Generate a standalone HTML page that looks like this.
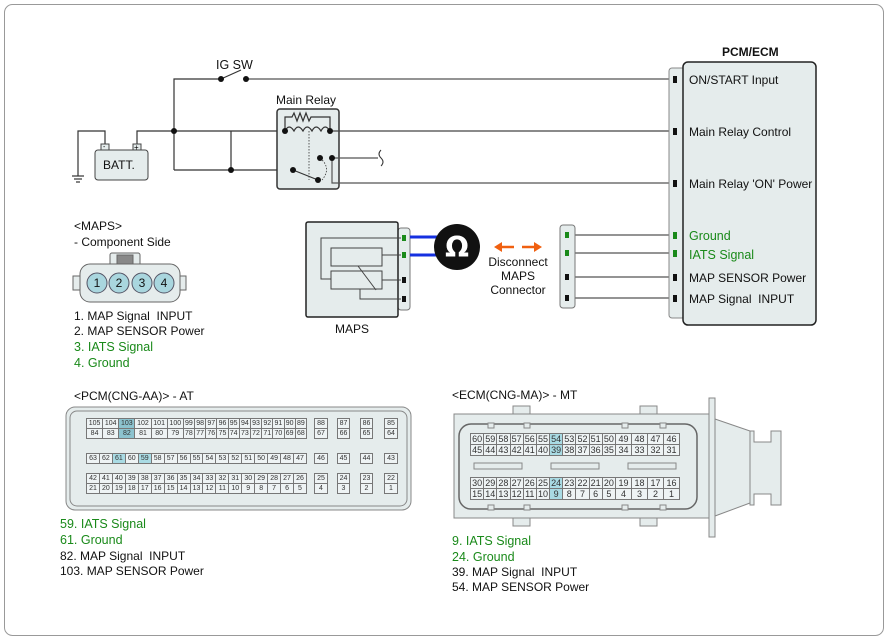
<!DOCTYPE html>
<html><head><meta charset="utf-8">
<style>
body{margin:0;width:888px;height:640px;background:#fff;position:relative;overflow:hidden;font-family:"Liberation Sans",sans-serif;}
svg{position:absolute;left:0;top:0}
.t{position:absolute;font-size:12px;color:#111;white-space:nowrap;line-height:14px}
.g{color:#1a8a1a;font-size:12.5px}
table{position:absolute;border-collapse:collapse;font-size:7px;font-family:"Liberation Sans",sans-serif;color:#333}
td{border:1px solid #777;padding:0;text-align:center;height:9px;line-height:9px;background:#eef3f4}
td.h1{background:#8cc3cf}
td.h2{background:#a9dbe4}
</style></head><body>
<svg width="888" height="640" viewBox="0 0 888 640">
<rect x="4.5" y="4.5" width="879" height="631" rx="8" fill="none" stroke="#999"/>
<g stroke="#333" stroke-width="1.2" fill="none">
<!-- IG SW line -->
<polyline points="174,170 174,79 221,79"/>
<line x1="221" y1="79" x2="241" y2="70"/>
<line x1="246" y1="79" x2="672" y2="79" stroke="#555"/>
<!-- battery + to junction -->
<polyline points="137,146 137,131 231,131"/>
<line x1="231" y1="131" x2="285" y2="131"/>
<line x1="231" y1="131" x2="231" y2="170"/>
<line x1="174" y1="170" x2="293" y2="170"/>
<!-- battery - to ground -->
<polyline points="105,146 105,131 78,131 78,176"/>
<line x1="72" y1="176" x2="84" y2="176"/>
<line x1="74" y1="179" x2="82" y2="179"/>
<line x1="76" y1="182" x2="80" y2="182"/>
<!-- relay -->
<rect x="277" y="109" width="62" height="80" rx="3" fill="#e5ecec" stroke="#333" stroke-width="1.5"/>
<polyline points="285,131 285,117 292,117 294,113 297,121 300,113 303,121 306,113 309,121 311,117 330,117 330,131"/>
<path d="M285,131 q4,-8 9,0 q4,-8 9,0 q4,-8 9,0 q4,-8 9,0 q4,-8 9,0"/>
<line x1="309" y1="131" x2="309" y2="180" stroke-dasharray="1.5,1.5" stroke-width="0.8"/>
<line x1="330" y1="131" x2="672" y2="131" stroke="#444"/>
<line x1="293" y1="170" x2="318" y2="180"/>
<path d="M320,158 q12,10 2,22" stroke-dasharray="1.5,1.5" stroke-width="0.8"/>
<line x1="332" y1="158" x2="378" y2="158" stroke="#555"/>
<path d="M381,150 q-4,4 0,8 q4,4 0,8" stroke-width="1"/>
<polyline points="332,158 332,183 672,183" stroke="#555"/>
<!-- MAPS right connector wires -->
<line x1="575" y1="235" x2="672" y2="235" stroke="#555"/>
<line x1="575" y1="253" x2="672" y2="253" stroke="#555"/>
<line x1="575" y1="277" x2="672" y2="277" stroke="#555"/>
<line x1="575" y1="298" x2="672" y2="298" stroke="#555"/>
</g>
<g fill="#111">
<circle cx="221" cy="79" r="3"/><circle cx="246" cy="79" r="3"/>
<circle cx="174" cy="131" r="3"/><circle cx="231" cy="170" r="3"/>
<circle cx="285" cy="131" r="3"/><circle cx="330" cy="131" r="3"/>
<circle cx="320" cy="158" r="3"/><circle cx="332" cy="158" r="3"/>
<circle cx="293" cy="170" r="3"/><circle cx="318" cy="180" r="3"/>
</g>
<!-- battery -->
<rect x="95" y="150" width="53" height="30" rx="3" fill="#e5ecec" stroke="#444"/>
<rect x="101" y="144" width="8" height="6" fill="#e5ecec" stroke="#444"/>
<rect x="133" y="144" width="8" height="6" fill="#e5ecec" stroke="#444"/>
<text x="103" y="149" font-size="7" font-family="Liberation Sans">-</text>
<text x="134" y="150" font-size="8" font-family="Liberation Sans">+</text>
<!-- PCM/ECM -->
<rect x="669" y="68" width="16" height="250" rx="3" fill="#e5ecec" stroke="#888"/>
<rect x="683" y="62" width="133" height="263" rx="5" fill="#e5ecec" stroke="#222" stroke-width="1.5"/>
<g fill="#111"><rect x="673" y="76" width="4" height="7"/><rect x="673" y="128" width="4" height="7"/><rect x="673" y="180" width="4" height="7"/><rect x="673" y="274" width="4" height="7"/><rect x="673" y="295" width="4" height="7"/></g>
<g fill="#1a8a1a"><rect x="673" y="232" width="4" height="7"/><rect x="673" y="250" width="4" height="7"/></g>
<!-- right MAPS connector -->
<rect x="560" y="225" width="15" height="83" rx="3" fill="#e5ecec" stroke="#777"/>
<g fill="#1a8a1a"><rect x="565" y="232" width="4" height="6"/><rect x="565" y="250" width="4" height="6"/></g>
<g fill="#111"><rect x="565" y="274" width="4" height="6"/><rect x="565" y="295" width="4" height="6"/></g>
<!-- MAPS -->
<rect x="398" y="228" width="12" height="82" rx="3" fill="#e5ecec" stroke="#777"/>
<rect x="306" y="222" width="92" height="95" rx="2" fill="#e5ecec" stroke="#222" stroke-width="1.5"/>
<g fill="none" stroke="#444" stroke-width="1">
<polyline points="401,238 321,238 321,279 331,279"/>
<rect x="331" y="248" width="51" height="18"/>
<line x1="382" y1="255" x2="401" y2="255"/>
<rect x="331" y="271" width="51" height="18"/>
<line x1="382" y1="280" x2="401" y2="280"/>
<polyline points="360,289 360,299 401,299"/>
<line x1="358" y1="266" x2="376" y2="290"/>
</g>
<g fill="#1a8a1a"><rect x="402" y="235" width="4" height="6"/><rect x="402" y="252" width="4" height="6"/></g>
<g fill="#111"><rect x="402" y="277" width="4" height="6"/><rect x="402" y="296" width="4" height="6"/></g>
<line x1="410" y1="237" x2="440" y2="237" stroke="#1530e0" stroke-width="3"/>
<line x1="410" y1="255" x2="440" y2="255" stroke="#1530e0" stroke-width="3"/>
<circle cx="457" cy="247" r="23" fill="#111"/>
<text x="457" y="257" font-size="28" font-weight="bold" fill="#fff" text-anchor="middle" font-family="DejaVu Sans">Ω</text>
<!-- arrows -->
<g fill="#f06010" stroke="#f06010" stroke-width="2.5">
<line x1="500" y1="247" x2="514" y2="247"/><polygon points="494,247 502,242 502,252" stroke="none"/>
<line x1="522" y1="247" x2="536" y2="247"/><polygon points="542,247 534,242 534,252" stroke="none"/>
</g>
<!-- MAPS connector drawing -->
<g stroke="#666" fill="#e5ecec" stroke-width="1">
<rect x="110" y="253" width="30" height="14" rx="2"/>
<rect x="117" y="255" width="16" height="10" fill="#888"/>
<rect x="73" y="276" width="8" height="14"/>
<rect x="178" y="276" width="8" height="14"/>
<rect x="80" y="264" width="100" height="38" rx="10"/>
</g>
<g stroke="#556" fill="#a9d6de" stroke-width="1">
<circle cx="97" cy="283" r="10"/><circle cx="119" cy="283" r="10"/><circle cx="142" cy="283" r="10"/><circle cx="164" cy="283" r="10"/>
</g>
<g font-size="12" font-family="Liberation Sans" text-anchor="middle" fill="#111">
<text x="97" y="287">1</text><text x="119" y="287">2</text><text x="142" y="287">3</text><text x="164" y="287">4</text>
</g>
<!-- PCM connector outline -->
<rect x="66" y="407" width="345" height="103" rx="9" fill="#e5ecec" stroke="#888"/>
<rect x="70" y="411" width="337" height="95" rx="7" fill="none" stroke="#888"/>
<!-- ECM connector -->
<g stroke="#888" fill="#e5ecec">
<rect x="513" y="406" width="17" height="10"/><rect x="640" y="406" width="17" height="10"/>
<rect x="513" y="516" width="17" height="10"/><rect x="640" y="516" width="17" height="10"/>
<rect x="454" y="414" width="255" height="104"/>
<rect x="459" y="424" width="238" height="85" rx="12" stroke="#666" stroke-width="1.5"/>
<polygon points="715,419 750,431 750,503 715,516"/>
<polygon points="750,431 754,431 754,442 771,442 771,431 781,431 781,505 771,505 771,494 754,494 754,505 750,505"/>
<rect x="709" y="398" width="6" height="139"/>
<rect x="488" y="423" width="6" height="5"/><rect x="524" y="423" width="6" height="5"/><rect x="622" y="423" width="6" height="5"/><rect x="660" y="423" width="6" height="5"/>
<rect x="488" y="505" width="6" height="5"/><rect x="524" y="505" width="6" height="5"/><rect x="622" y="505" width="6" height="5"/><rect x="660" y="505" width="6" height="5"/>
<rect x="474" y="463" width="48" height="6"/><rect x="551" y="463" width="48" height="6"/><rect x="628" y="463" width="48" height="6"/>
</g>
</svg>

<div class="t" style="left:216px;top:58px;font-size:12.5px">IG SW</div>
<div class="t" style="left:276px;top:93px">Main Relay</div>
<div class="t" style="left:103px;top:158px">BATT.</div>
<div class="t" style="left:722px;top:45px;font-weight:bold;font-size:12px">PCM/ECM</div>
<div class="t" style="left:689px;top:73px">ON/START Input</div>
<div class="t" style="left:689px;top:125px">Main Relay Control</div>
<div class="t" style="left:689px;top:177px">Main Relay 'ON' Power</div>
<div class="t g" style="left:689px;top:229px">Ground</div>
<div class="t g" style="left:689px;top:248px">IATS Signal</div>
<div class="t" style="left:689px;top:271px">MAP SENSOR Power</div>
<div class="t" style="left:689px;top:292px">MAP Signal&nbsp; INPUT</div>
<div class="t" style="left:335px;top:322px">MAPS</div>
<div class="t" style="left:478px;top:255px;text-align:center;width:80px;line-height:14px">Disconnect<br>MAPS<br>Connector</div>
<div class="t" style="left:74px;top:219px">&lt;MAPS&gt;</div>
<div class="t" style="left:74px;top:235px">- Component Side</div>
<div class="t" style="left:74px;top:309px">1. MAP Signal&nbsp; INPUT</div>
<div class="t" style="left:74px;top:324px">2. MAP SENSOR Power</div>
<div class="t g" style="left:74px;top:340px">3. IATS Signal</div>
<div class="t g" style="left:74px;top:356px">4. Ground</div>
<div class="t" style="left:74px;top:389px">&lt;PCM(CNG-AA)&gt; - AT</div>
<div class="t" style="left:452px;top:388px">&lt;ECM(CNG-MA)&gt; - MT</div>
<div class="t g" style="left:60px;top:517px">59. IATS Signal</div>
<div class="t g" style="left:60px;top:533px">61. Ground</div>
<div class="t" style="left:60px;top:549px">82. MAP Signal&nbsp; INPUT</div>
<div class="t" style="left:60px;top:564px">103. MAP SENSOR Power</div>
<div class="t g" style="left:452px;top:534px">9. IATS Signal</div>
<div class="t g" style="left:452px;top:550px">24. Ground</div>
<div class="t" style="left:452px;top:565px">39. MAP Signal&nbsp; INPUT</div>
<div class="t" style="left:452px;top:580px">54. MAP SENSOR Power</div>

<!-- PCM tables -->
<table style="left:86px;top:418px;width:221px">
<tr><td>105</td><td>104</td><td class="h1">103</td><td>102</td><td>101</td><td>100</td><td>99</td><td>98</td><td>97</td><td>96</td><td>95</td><td>94</td><td>93</td><td>92</td><td>91</td><td>90</td><td>89</td></tr>
<tr><td>84</td><td>83</td><td class="h1">82</td><td>81</td><td>80</td><td>79</td><td>78</td><td>77</td><td>76</td><td>75</td><td>74</td><td>73</td><td>72</td><td>71</td><td>70</td><td>69</td><td>68</td></tr>
</table>
<table style="left:86px;top:453px;width:221px">
<tr><td>63</td><td>62</td><td class="h2">61</td><td>60</td><td class="h2">59</td><td>58</td><td>57</td><td>56</td><td>55</td><td>54</td><td>53</td><td>52</td><td>51</td><td>50</td><td>49</td><td>48</td><td>47</td></tr>
</table>
<table style="left:86px;top:473px;width:221px">
<tr><td>42</td><td>41</td><td>40</td><td>39</td><td>38</td><td>37</td><td>36</td><td>35</td><td>34</td><td>33</td><td>32</td><td>31</td><td>30</td><td>29</td><td>28</td><td>27</td><td>26</td></tr>
<tr><td>21</td><td>20</td><td>19</td><td>18</td><td>17</td><td>16</td><td>15</td><td>14</td><td>13</td><td>12</td><td>11</td><td>10</td><td>9</td><td>8</td><td>7</td><td>6</td><td>5</td></tr>
</table>
<table style="left:314px;top:418px;width:14px"><tr><td>88</td></tr><tr><td>67</td></tr></table>
<table style="left:337px;top:418px;width:13px"><tr><td>87</td></tr><tr><td>66</td></tr></table>
<table style="left:360px;top:418px;width:13px"><tr><td>86</td></tr><tr><td>65</td></tr></table>
<table style="left:384px;top:418px;width:14px"><tr><td>85</td></tr><tr><td>64</td></tr></table>
<table style="left:314px;top:453px;width:14px"><tr><td>46</td></tr></table>
<table style="left:337px;top:453px;width:13px"><tr><td>45</td></tr></table>
<table style="left:360px;top:453px;width:13px"><tr><td>44</td></tr></table>
<table style="left:384px;top:453px;width:14px"><tr><td>43</td></tr></table>
<table style="left:314px;top:473px;width:14px"><tr><td>25</td></tr><tr><td>4</td></tr></table>
<table style="left:337px;top:473px;width:13px"><tr><td>24</td></tr><tr><td>3</td></tr></table>
<table style="left:360px;top:473px;width:13px"><tr><td>23</td></tr><tr><td>2</td></tr></table>
<table style="left:384px;top:473px;width:14px"><tr><td>22</td></tr><tr><td>1</td></tr></table>

<!-- ECM tables -->
<table style="left:470px;top:433px;width:210px;font-size:9px">
<tr style="height:11px"><td>60</td><td>59</td><td>58</td><td>57</td><td>56</td><td>55</td><td class="h2">54</td><td>53</td><td>52</td><td>51</td><td>50</td><td style="width:15px">49</td><td style="width:15px">48</td><td style="width:15px">47</td><td style="width:15px">46</td></tr>
<tr style="height:11px"><td>45</td><td>44</td><td>43</td><td>42</td><td>41</td><td>40</td><td class="h2">39</td><td>38</td><td>37</td><td>36</td><td>35</td><td>34</td><td>33</td><td>32</td><td>31</td></tr>
</table>
<table style="left:470px;top:477px;width:210px;font-size:9px">
<tr style="height:11px"><td>30</td><td>29</td><td>28</td><td>27</td><td>26</td><td>25</td><td class="h2">24</td><td>23</td><td>22</td><td>21</td><td>20</td><td style="width:15px">19</td><td style="width:15px">18</td><td style="width:15px">17</td><td style="width:15px">16</td></tr>
<tr style="height:11px"><td>15</td><td>14</td><td>13</td><td>12</td><td>11</td><td>10</td><td class="h2">9</td><td>8</td><td>7</td><td>6</td><td>5</td><td>4</td><td>3</td><td>2</td><td>1</td></tr>
</table>
</body></html>
